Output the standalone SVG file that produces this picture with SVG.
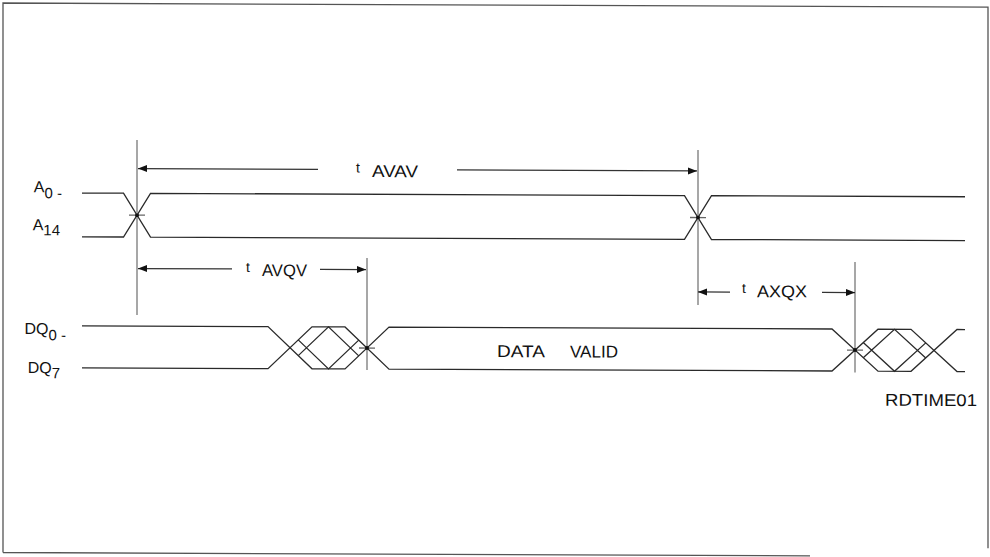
<svg xmlns="http://www.w3.org/2000/svg" width="990" height="557" viewBox="0 0 990 557">
<style>
.sig{fill:none;stroke:#2a2a2a;stroke-width:1.3;stroke-linejoin:miter}
.vl{fill:none;stroke:#8a8a8a;stroke-width:1.5}
.dim{fill:none;stroke:#333;stroke-width:1.2}
.tick{fill:none;stroke:#666;stroke-width:1.3}
.dot{fill:#111}
.frame{fill:none;stroke:#555;stroke-width:1.3}
text{font-family:"Liberation Sans",Arial,sans-serif;fill:#111}
.lbl{font-size:16px;text-anchor:end}
.big{font-size:17px}
.t{font-size:14px}
</style>
<defs>
<marker id="ah" markerUnits="userSpaceOnUse" markerWidth="10" markerHeight="8" refX="9" refY="4" orient="auto-start-reverse">
<path d="M0,0.5 L9,4 L0,7.5 Z" fill="#111"/>
</marker>
</defs>
<g transform="matrix(1,0.0042,0,1,0,0)">
<path class="frame" d="M3,552.5 V3 H988 V544 M3,552.5 H810"/>
<g id="sig-A">
<path class="sig" d="M82,192.7 H123.5 L150.5,236.5 H684.5 L711.5,192.7 H965"/>
<path class="sig" d="M82,236.5 H123.5 L150.5,192.7 H684.5 L711.5,236.5 H965"/>
</g>
<g id="sig-DQ">
<path class="sig" d="M82,325.5 H268 L312,367.5 H345 L389,325.5 H832 L878,367.5 H911 L957,325.5 H965"/>
<path class="sig" d="M82,367.5 H268 L312,325.5 H345 L389,367.5 H832 L878,325.5 H911 L957,367.5 H965"/>
<path class="sig" d="M298.25,338.6 L328.5,367.5 L358.75,338.6 M298.25,354.4 L328.5,325.5 L358.75,354.4"/>
<path class="sig" d="M863.25,338.97 L894.5,367.5 L925.75,338.97 M863.25,354.03 L894.5,325.5 L925.75,354.03"/>
</g>
<g id="connectors">
<path class="vl" d="M137,139.5 V314.5 M367,256.5 V368.5 M698,147 V302 M855,258.5 V369"/>
<path class="tick" d="M129,214.6 H145 M690,214.6 H706 M359,346.5 H375 M847,346.5 H863"/>
<circle class="dot" cx="137" cy="214.6" r="2"/>
<circle class="dot" cx="698" cy="214.6" r="2"/>
<circle class="dot" cx="367" cy="346.5" r="2"/>
<circle class="dot" cx="855" cy="346.5" r="2"/>
<path class="dim" d="M318,168 H138" marker-end="url(#ah)"/>
<path class="dim" d="M457,168 H697" marker-end="url(#ah)"/>
<path class="dim" d="M232,268 H138" marker-end="url(#ah)"/>
<path class="dim" d="M320,268 H366" marker-end="url(#ah)"/>
<path class="dim" d="M730,289 H698" marker-end="url(#ah)"/>
<path class="dim" d="M822,289 H855" marker-end="url(#ah)"/>
</g>
<g id="labels">
<text class="t" x="356" y="171">t</text>
<text class="big" x="372" y="175.5" textLength="46" lengthAdjust="spacingAndGlyphs">AVAV</text>
<text class="t" x="246" y="271">t</text>
<text class="big" x="262" y="275" textLength="45" lengthAdjust="spacingAndGlyphs">AVQV</text>
<text class="t" x="742" y="290">t</text>
<text class="big" x="757" y="294" textLength="50" lengthAdjust="spacingAndGlyphs">AXQX</text>
<text class="big" x="497" y="355" textLength="48" lengthAdjust="spacingAndGlyphs">DATA</text>
<text class="big" x="570" y="355" textLength="48" lengthAdjust="spacingAndGlyphs">VALID</text>
<text class="big" x="885" y="402" textLength="92" lengthAdjust="spacingAndGlyphs">RDTIME01</text>
<text class="lbl" x="62" y="192">A<tspan dy="6" font-size="15">0 -</tspan></text>
<text class="lbl" x="60" y="230">A<tspan dy="5" font-size="15">14</tspan></text>
<text class="lbl" x="66" y="334">DQ<tspan dy="6" font-size="15">0 -</tspan></text>
<text class="lbl" x="60" y="373">DQ<tspan dy="5" font-size="15">7</tspan></text>
</g>
</g>
</svg>
